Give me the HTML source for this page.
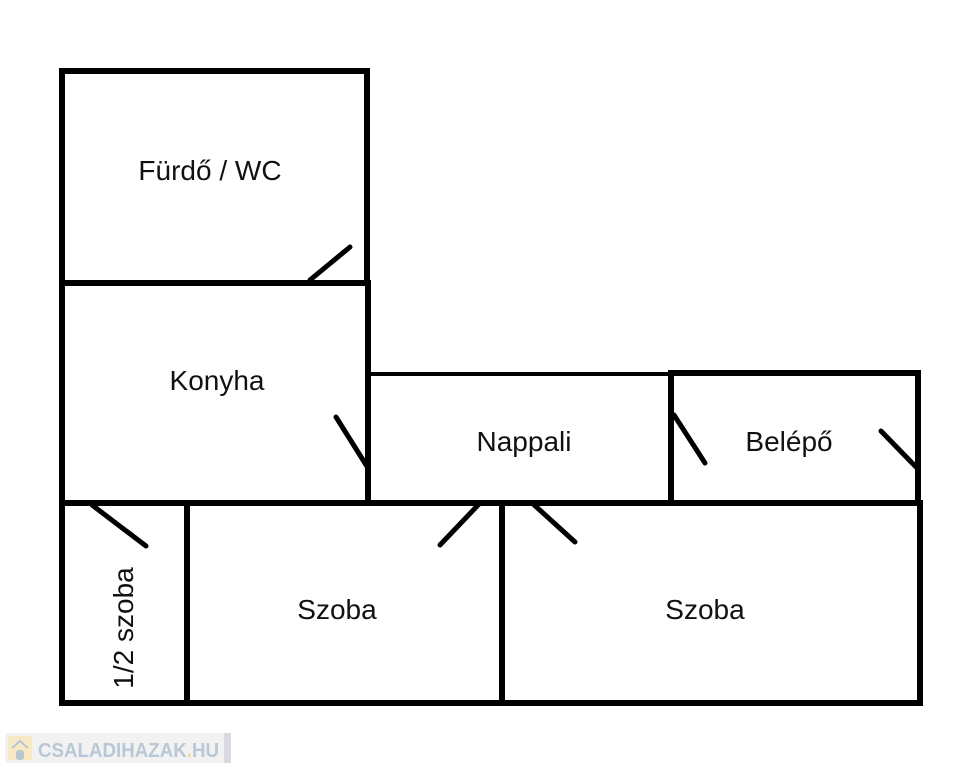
<!DOCTYPE html>
<html><head><meta charset="utf-8"><style>
html,body{margin:0;padding:0;background:#fff;width:962px;height:768px;overflow:hidden}
svg{display:block}
text{font-family:"Liberation Sans","DejaVu Sans",sans-serif;fill:#111}
</style></head><body>
<svg width="962" height="768" viewBox="0 0 962 768">
<g stroke="#000" stroke-width="6" fill="none" stroke-linecap="square">
<rect x="62" y="71" width="305" height="212"/>
<line x1="62" y1="283" x2="62" y2="703"/>
<line x1="368" y1="283" x2="368" y2="502"/>
<line x1="62" y1="503" x2="920" y2="503"/>
<line x1="62" y1="703" x2="920" y2="703"/>
<line x1="187" y1="503" x2="187" y2="703"/>
<line x1="502" y1="503" x2="502" y2="703"/>
<line x1="920" y1="503" x2="920" y2="703"/>
<line x1="671" y1="373" x2="671" y2="502"/>
<line x1="918" y1="373" x2="918" y2="502"/>
<line x1="671" y1="373" x2="918" y2="373"/>
</g>
<line x1="370" y1="374" x2="671" y2="374" stroke="#000" stroke-width="4"/>
<g stroke="#000" stroke-width="5" stroke-linecap="round">
<line x1="310" y1="280" x2="350" y2="247"/>
<line x1="336" y1="417" x2="368" y2="468"/>
<line x1="92" y1="505" x2="146" y2="546"/>
<line x1="440" y1="545" x2="480" y2="503"/>
<line x1="532" y1="503" x2="575" y2="542"/>
<line x1="674" y1="415" x2="705" y2="463"/>
<line x1="881" y1="431" x2="916" y2="467"/>
</g>
<g font-size="28" text-anchor="middle">
<text x="210" y="180">Fürdő / WC</text>
<text x="217" y="390">Konyha</text>
<text x="524" y="451">Nappali</text>
<text x="789" y="451">Belépő</text>
<text x="337" y="619">Szoba</text>
<text x="705" y="619">Szoba</text>
<text transform="translate(133,628) rotate(-90)">1/2 szoba</text>
</g>
<rect x="5" y="733" width="226" height="30" fill="#f2f2f2"/>
<rect x="224" y="733" width="7" height="30" fill="#d8dce0"/>
<rect x="8" y="736" width="24" height="24" fill="#f6e9c4"/>
<path d="M12 748 L20 741 L28 748" stroke="#b8c6d2" stroke-width="2" fill="none"/>
<rect x="16" y="750" width="8" height="10" rx="3" fill="#b8c6d2"/>
<text x="38" y="757" font-size="20" font-weight="bold" textLength="181" lengthAdjust="spacingAndGlyphs" style="fill:#b8c8d6">CSALADIHAZAK<tspan style="fill:#f0d890">.</tspan>HU</text>
</svg>
</body></html>
